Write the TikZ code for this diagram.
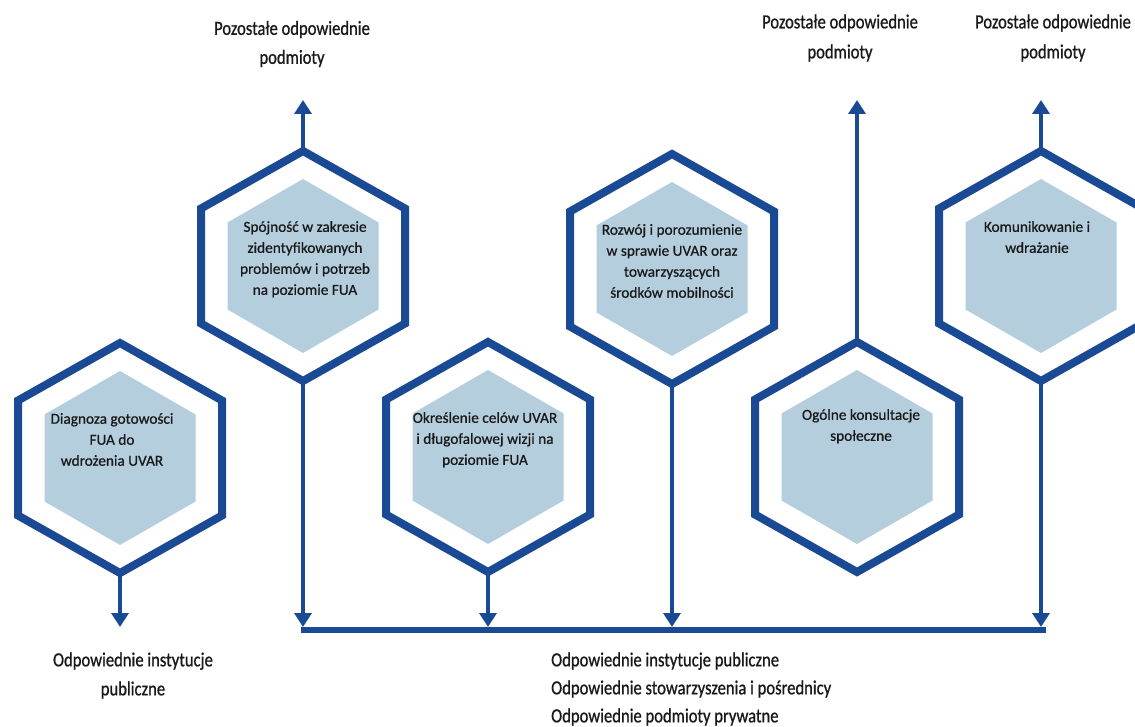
\documentclass[tikz,border=0pt]{standalone}
\usepackage{fontspec}
\setmainfont{Carlito}
\newfontfamily\hexfont[FakeBold=0.7]{Carlito}
\newfontfamily\lblfont[FakeStretch=0.83,FakeBold=0.8]{Carlito}
\usetikzlibrary{arrows.meta,calc}
\definecolor{navy}{RGB}{27,74,148}
\definecolor{paleblue}{RGB}{181,206,222}
\definecolor{txt}{RGB}{25,25,25}
\tikzset{
  outerhex/.style={draw=navy, line width=8pt, fill=white, line join=miter},
  innerhex/.style={fill=paleblue},
  conn/.style={draw=navy, line width=4.5pt, -{Triangle[width=17pt,length=14pt]}},
  barline/.style={draw=navy, line width=5.5pt},
  hextext/.style={anchor=north, align=center, inner sep=0pt, text=txt,
    font=\hexfont\fontsize{15.3}{21}\selectfont},
  lbl/.style={align=center, inner sep=0pt, text=txt,
    font=\lblfont\fontsize{20}{29}\selectfont}
}
\newcommand\myhex[2]{%
  \coordinate (#1) at (#2);
  \draw[outerhex] ($(#1)+(0,-115)$) -- ++(102,57.5) -- ++(0,115) -- ++(-102,57.5) -- ++(-102,-57.5) -- ++(0,-115) -- cycle;
  \fill[innerhex] ($(#1)+(0,-87)$) -- ++(75.5,43.5) -- ++(0,87) -- ++(-75.5,43.5) -- ++(-75.5,-43.5) -- ++(0,-87) -- cycle;
  \coordinate (#1t) at ($(#1)+(0,-115)$);
  \coordinate (#1b) at ($(#1)+(0,115)$);
}
\begin{document}
\begin{tikzpicture}[x=1pt, y=-1pt]
\useasboundingbox[fill=white] (0,0) rectangle (1135,727);
\clip (0,0) rectangle (1135,727);

% hexagons
\myhex{h1}{120,458}
\myhex{h2}{303,266}
\myhex{h3}{488,457}
\myhex{h4}{672,269}
\myhex{h5}{857,457}
\myhex{h6}{1041,266}

% hexagon texts
\node[hextext] (t1) at ($(h1)+(-8,-45)$) {Diagnoza gotowości\\FUA do\\wdrożenia UVAR};
\node[hextext] (t2) at ($(h2)+(2,-45)$) {Spójność w zakresie\\zidentyfikowanych\\problemów i potrzeb\\na poziomie FUA};
\node[hextext] (t3) at ($(h3)+(-3,-45)$) {Określenie celów UVAR\\i długofalowej wizji na\\poziomie FUA};
\node[hextext] (t4) at ($(h4)+(0,-45)$) {Rozwój i porozumienie\\w sprawie UVAR oraz\\towarzyszących\\środków mobilności};
\node[hextext] (t5) at ($(h5)+(4,-48)$) {Ogólne konsultacje\\społeczne};
\node[hextext] (t6) at ($(h6)+(-4,-45)$) {Komunikowanie i\\wdrażanie};

% outer labels
\node[lbl] (p2) at (292,44) {Pozostałe odpowiednie\\podmioty};
\node[lbl, font=\lblfont\fontsize{20}{30}\selectfont] (p5) at (840,38) {Pozostałe odpowiednie\\podmioty};
\node[lbl, font=\lblfont\fontsize{20}{30}\selectfont] (p6) at (1053,38) {Pozostałe odpowiednie\\podmioty};
\node[lbl] (l1) at (133,675.5) {Odpowiednie instytucje\\publiczne};
\node[lbl, align=left, anchor=west, font=\lblfont\fontsize{20}{28}\selectfont] (l2) at (551,689) {Odpowiednie instytucje publiczne\\Odpowiednie stowarzyszenia i pośrednicy\\Odpowiednie podmioty prywatne};

% connector ends
\coordinate (barL) at (301,630);
\coordinate (barR) at (1046,630);
\coordinate (bartop) at (0,627);
\coordinate (uptop) at (0,100);
\coordinate (h1end) at (120,627);

\draw[barline] (barL) -- (barR);
\draw[conn] (h1b) -- (h1end);
\draw[conn] (h2b) -- (h2b |- bartop);
\draw[conn] (h3b) -- (h3b |- bartop);
\draw[conn] (h4b) -- (h4b |- bartop);
\draw[conn] (h6b) -- (h6b |- bartop);
\draw[conn] (h2t) -- (h2t |- uptop);
\draw[conn] (h5t) -- (h5t |- uptop);
\draw[conn] (h6t) -- (h6t |- uptop);
\end{tikzpicture}
\end{document}
